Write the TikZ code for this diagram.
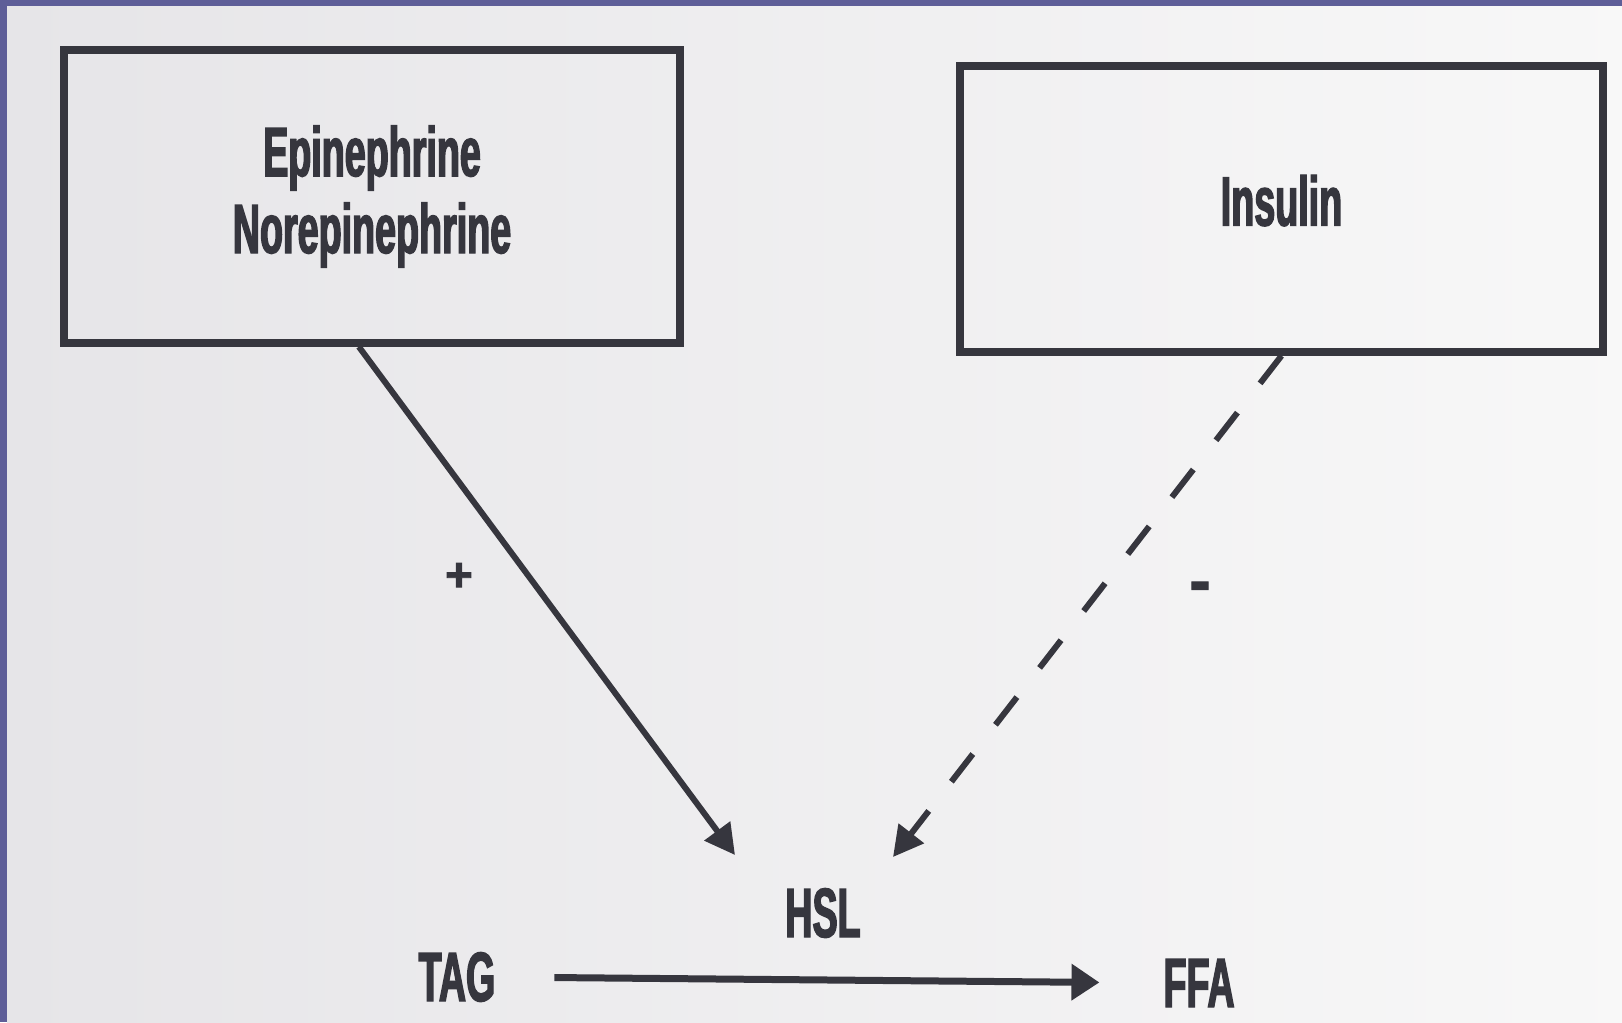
\documentclass[tikz,border=0pt]{standalone}
\usepackage{fontspec}
\newfontfamily\hormfont{Liberation Sans}[FakeStretch=0.54, FakeBold=2]
\newfontfamily\signfont{Liberation Sans}[FakeBold=2]
\usetikzlibrary{arrows.meta}
\definecolor{ink}{HTML}{36363E}
\definecolor{slide}{HTML}{5E5E98}
\definecolor{paperL}{HTML}{E6E5E8}
\definecolor{paperR}{HTML}{F8F8F8}

\begin{document}
\begin{tikzpicture}
[
    x=0.02cm, y=-0.02cm,
    hormone/.style={draw=ink, line width=0.15cm, rectangle, inner sep=0pt, text=ink, align=center,
        font=\hormfont\bfseries\fontsize{39.7}{43.8}\selectfont},
    word/.style={inner sep=0pt, outer sep=0pt, text=ink,
        font=\hormfont\bfseries\fontsize{39.7}{43.8}\selectfont},
    sign/.style={inner sep=0pt, text=ink, font=\signfont\bfseries\fontsize{27}{27}\selectfont},
    effect/.style={draw=ink, line width=0.12cm, -{Triangle[length=0.6cm, width=0.62cm]}},
]
\useasboundingbox (0,0) rectangle (1622,1022);
\fill[slide] (0,0) rectangle (1622,1022);
\shade[left color=paperL, right color=paperR] (7,6) rectangle (1640,1040);

% hormones
\node[hormone, minimum width=12.32cm, minimum height=5.86cm] (epi) at (372,196.5)
    {Epinephrine\\Norepinephrine};
\node[hormone, minimum width=12.86cm, minimum height=5.72cm, text depth=0.35cm] (ins) at (1281.5,209)
    {Insulin};

% lipolysis
\node[word] (hsl) at (823,913) {HSL};
\node[word] (tag) at (457,977) {TAG};
\node[word] (ffa) at (1199,983) {FFA};
\coordinate (upL) at (735,855);
\coordinate (upR) at (893,857);

\node[sign] (plus) at (459,577) {+};
\node[sign, font=\signfont\bfseries\fontsize{36}{36}\selectfont] (minus) at (1200,592) {-};

\draw[effect] (epi.-95) -- (upL);
\draw[effect, dash pattern=on 0.7cm off 0.74cm] (ins.south) -- (upR);
\draw[effect, line width=0.14cm, -{Triangle[length=0.56cm, width=0.7cm]},
    shorten <=1.18cm, shorten >=1.28cm] (tag.east) -- (ffa.west);
\end{tikzpicture}
\end{document}
